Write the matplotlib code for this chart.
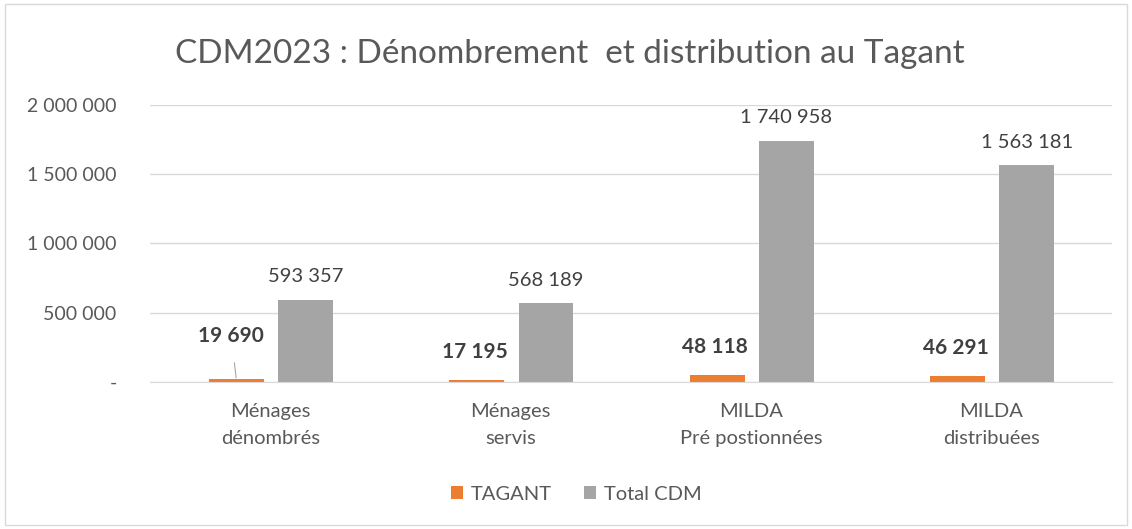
import matplotlib.pyplot as plt
import numpy as np
from matplotlib.patches import Rectangle

plt.rcParams['font.family'] = ['Lato', 'DejaVu Sans']

categories = ['Ménages\ndénombrés', 'Ménages\nservis', 'MILDA\nPré postionnées', 'MILDA\ndistribuées']
tagant = [19690, 17195, 48118, 46291]
total_cdm = [593357, 568189, 1740958, 1563181]
yticks = [0, 500000, 1000000, 1500000, 2000000]

def fmt(v):
    if v == 0:
        return '-'
    return f'{v:,}'.replace(',', ' ')

orange = '#ED7D31'
gris = '#A5A5A5'
txt = '#595959'

fig = plt.figure(figsize=(11.32, 5.29), dpi=100)
ax = fig.add_axes([0.1325, 0.278, 0.8495, 0.5235])

# cadre autour du graphique
fig.patches.append(Rectangle((0.004, 0.008), 0.992, 0.984, transform=fig.transFigure,
                             fill=False, edgecolor='#d9d9d9', linewidth=1))

x = np.arange(len(categories))
w = 0.228
b1 = ax.bar(x - 0.141, tagant, w, color=orange, label='TAGANT')
b2 = ax.bar(x + 0.147, total_cdm, w, color=gris, label='Total CDM')

ax.set_xlim(-0.5, len(categories) - 0.5)
ax.set_ylim(0, 2000000)
ax.set_yticks(yticks)
ax.set_yticklabels([fmt(v) for v in yticks])
ax.set_xticks(x)
ax.set_xticklabels(categories, linespacing=1.7, fontsize=14.5)
ax.tick_params(axis='both', length=0, colors=txt)
ax.tick_params(axis='y', pad=24, labelsize=14)
ax.tick_params(axis='x', pad=15)
ax.grid(axis='y', color='#d9d9d9', linewidth=1)
ax.set_axisbelow(True)
for s in ['top', 'right', 'left']:
    ax.spines[s].set_visible(False)
ax.spines['bottom'].set_color('#d9d9d9')

# étiquettes TAGANT (gras), la première déplacée avec un trait de rappel
decal = [43, 28, 28, 28]
for i, v in enumerate(tagant):
    if i == 0:
        ax.annotate(fmt(v), (x[i] - 0.141, v), xytext=(-5, decal[i]), textcoords='offset pixels',
                    ha='center', va='center', fontsize=15, fontweight='bold', color='#404040',
                    arrowprops=dict(arrowstyle='-', color='#a6a6a6', lw=0.8, shrinkA=10, shrinkB=1))
    else:
        ax.annotate(fmt(v), (x[i] - 0.141, v), xytext=(-2, decal[i]), textcoords='offset pixels',
                    ha='center', va='center', fontsize=15, fontweight='bold', color='#404040')

for i, v in enumerate(total_cdm):
    ax.annotate(fmt(v), (x[i] + 0.147, v), xytext=(0, 23), textcoords='offset pixels',
                ha='center', va='center', fontsize=14.5, color='#404040')

fig.text(0.503, 0.898, 'CDM2023 : Dénombrement  et distribution au Tagant',
         ha='center', va='center', fontsize=24, color=txt)

fig.legend(handles=[b1, b2], loc='center', bbox_to_anchor=(0.509, 0.066), ncol=2, frameon=False,
           fontsize=14.5, labelcolor=txt, handlelength=0.6, handleheight=0.6,
           handletextpad=0.4, columnspacing=1.6)

fig.savefig('out.png', dpi=100)
